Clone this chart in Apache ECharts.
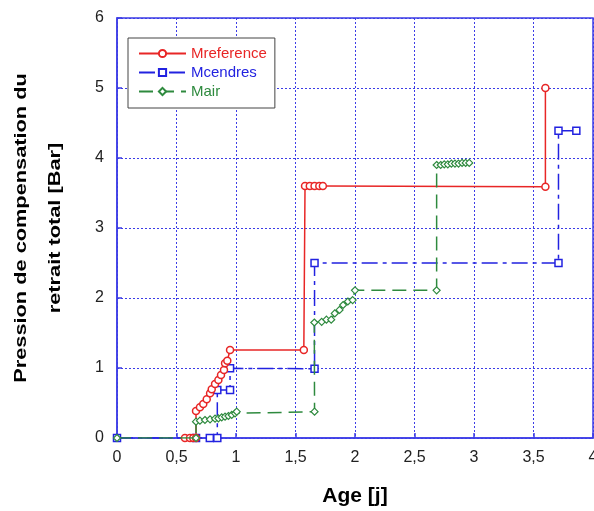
<!DOCTYPE html>
<html>
<head>
<meta charset="utf-8">
<script src="https://cdn.jsdelivr.net/npm/echarts@6/dist/echarts.min.js"></script>
<style>html,body{margin:0;padding:0;background:#fff;}#c{width:594px;height:511px;}</style>
</head>
<body>
<div id="c"></div>
<script>
// ---- data ----
const xTicks = [0, 0.5, 1, 1.5, 2, 2.5, 3, 3.5, 4];
const yTicks = [0, 1, 2, 3, 4, 5, 6];
const seriesNames = ['Mreference', 'Mcendres', 'Mair'];

const refX = [0.571, 0.613, 0.641, 0.664, 0.664, 0.697, 0.725, 0.754, 0.782, 0.796, 0.824, 0.852, 0.874, 0.899, 0.908, 0.927, 0.95, 1.57, 1.58, 1.62, 1.66, 1.70, 1.73, 3.60, 3.60];
const refY = [0, 0, 0, 0, 0.386, 0.44, 0.486, 0.553, 0.639, 0.696, 0.771, 0.829, 0.90, 0.971, 1.067, 1.105, 1.257, 1.257, 3.6, 3.6, 3.6, 3.6, 3.6, 3.59, 5.0];

const cenX = [0, 0.664, 0.78, 0.843, 0.843, 0.95, 0.95, 1.66, 1.66, 3.71, 3.71, 3.86];
const cenY = [0, 0, 0, 0, 0.686, 0.686, 0.995, 0.99, 2.5, 2.5, 4.39, 4.39];

const airX = [0, 0.664, 0.664, 0.697, 0.739, 0.782, 0.824, 0.852, 0.88, 0.908, 0.936, 0.964, 0.992, 1.006, 1.66, 1.658, 1.72, 1.76, 1.80, 1.83, 1.87, 1.90, 1.94, 1.98, 2.0, 2.686, 2.686, 2.72, 2.75, 2.78, 2.81, 2.84, 2.87, 2.90, 2.93, 2.96];
const airY = [0, 0, 0.233, 0.248, 0.257, 0.267, 0.276, 0.281, 0.295, 0.305, 0.314, 0.329, 0.352, 0.376, 0.376, 1.65, 1.66, 1.69, 1.69, 1.78, 1.83, 1.90, 1.95, 1.97, 2.11, 2.11, 3.90, 3.90, 3.91, 3.91, 3.92, 3.92, 3.92, 3.93, 3.93, 3.93];

// ---- chart ----
const RED = '#e82626', BLUE = '#2222e0', GREEN = '#2e8a3e', GRIDC = '#3c3ce6';
const FONT = '"Liberation Sans", Arial, sans-serif';
const pairs = (xs, ys) => xs.map((x, i) => [x, ys[i]]);
const fmt = v => String(v).replace('.', ',');

const chart = echarts.init(document.getElementById('c'));
chart.setOption({
  animation: false,
  backgroundColor: '#fff',
  grid: { left: 117, right: 1, top: 18, bottom: 73, show: true, borderColor: GRIDC, borderWidth: 1.5,
          containLabel: false, outerBoundsMode: 'none' },
  xAxis: {
    type: 'value', min: xTicks[0], max: xTicks[xTicks.length - 1], interval: xTicks[1] - xTicks[0],
    name: 'Age [j]', nameLocation: 'middle', nameGap: 48,
    nameTextStyle: { fontSize: 21, fontWeight: 'bold', color: '#000', fontFamily: FONT },
    axisLine: { lineStyle: { color: GRIDC, width: 1.5 } },
    axisTick: { inside: true, length: 5, lineStyle: { color: GRIDC, width: 1.5 } },
    axisLabel: { formatter: fmt, fontSize: 16, color: '#222', fontFamily: FONT, margin: 12, showMaxLabel: true, hideOverlap: false },
    splitLine: { show: true, lineStyle: { color: GRIDC, type: [2, 2], width: 1 } }
  },
  yAxis: {
    type: 'value', min: yTicks[0], max: yTicks[yTicks.length - 1], interval: yTicks[1] - yTicks[0],
    axisLine: { show: true, lineStyle: { color: GRIDC, width: 1.5 } },
    axisTick: { show: true, inside: true, length: 5, lineStyle: { color: GRIDC, width: 1.5 } },
    axisLabel: { formatter: fmt, fontSize: 16, color: '#222', fontFamily: FONT, margin: 13 },
    splitLine: { show: true, lineStyle: { color: GRIDC, type: [2, 2], width: 1 } }
  },
  legend: {
    orient: 'vertical', left: 128, top: 38,
    padding: [8, 8, 9, 10],
    borderColor: '#444', borderWidth: 1, backgroundColor: '#fff',
    itemWidth: 47, itemHeight: 9, itemGap: 4,
    textStyle: { fontSize: 15, fontFamily: FONT },
    data: [
      { name: seriesNames[0], textStyle: { color: RED } },
      { name: seriesNames[1], textStyle: { color: BLUE } },
      { name: seriesNames[2], textStyle: { color: GREEN } }
    ]
  },
  graphic: [
    { type: 'text', x: 21, y: 228, rotation: Math.PI / 2, scaleX: 1.28,
      style: { text: 'Pression de compensation du', font: 'bold 17px ' + FONT, fill: '#000', align: 'center', verticalAlign: 'middle' } },
    { type: 'text', x: 55, y: 228, rotation: Math.PI / 2, scaleX: 1.28,
      style: { text: 'retrait total [Bar]', font: 'bold 17px ' + FONT, fill: '#000', align: 'center', verticalAlign: 'middle' } }
  ],
  series: [
    { name: seriesNames[0], type: 'line', data: pairs(refX, refY), symbol: 'circle', symbolSize: 7,
      lineStyle: { color: RED, width: 1.5 }, itemStyle: { color: '#fff', borderColor: RED, borderWidth: 1.5 }, z: 3 },
    { name: seriesNames[1], type: 'line', data: pairs(cenX, cenY), symbol: 'rect', symbolSize: 7,
      lineStyle: { color: BLUE, width: 1.5, type: [16, 5, 4, 5] }, itemStyle: { color: '#fff', borderColor: BLUE, borderWidth: 1.5 }, z: 2 },
    { name: seriesNames[2], type: 'line', data: pairs(airX, airY), symbol: 'diamond', symbolSize: 7,
      lineStyle: { color: GREEN, width: 1.5, type: [14, 7] }, itemStyle: { color: '#fff', borderColor: GREEN, borderWidth: 1.2 }, z: 4 }
  ]
});
</script>
</body>
</html>
